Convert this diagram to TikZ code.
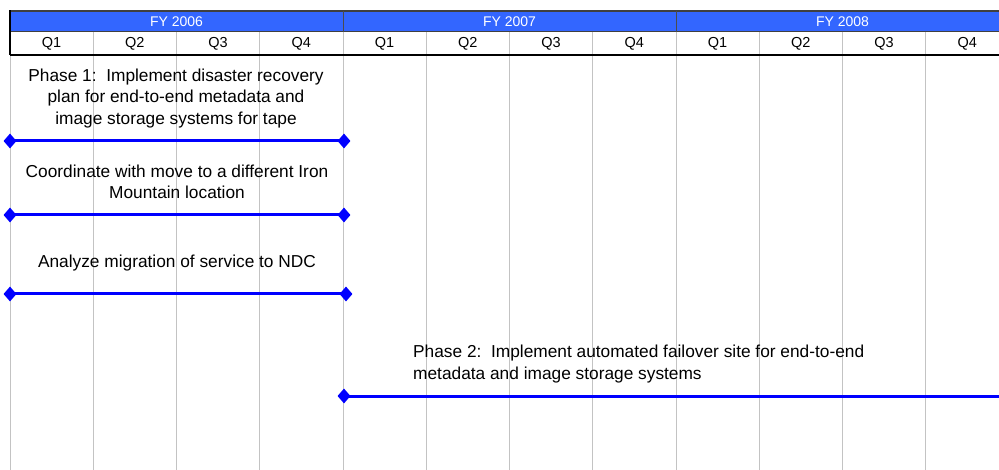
\documentclass[tikz,border=0pt]{standalone}
\usepackage{fontspec}
\setmainfont{Liberation Sans}
\usetikzlibrary{shapes.geometric}
\definecolor{hdrblue}{RGB}{51,102,255}
\definecolor{barblue}{RGB}{0,0,255}
\definecolor{gridgray}{RGB}{195,195,195}
\tikzset{
  yearlbl/.style={text=white,font=\fontsize{14}{15}\selectfont,inner sep=0pt},
  qlbl/.style={text=black,font=\fontsize{14.5}{15}\selectfont,inner sep=0pt},
  tasklbl/.style={font=\fontsize{17.3}{21.2}\selectfont,align=center,inner sep=0pt},
  gridline/.style={draw=gridgray,line width=0.9pt},
  taskbar/.style={draw=barblue,line width=3pt},
  milestone/.style={diamond,fill=barblue,draw=none,minimum width=13pt,minimum height=15pt,inner sep=0pt},
}
\begin{document}
\begin{tikzpicture}[x=1pt,y=-1pt]
\useasboundingbox[fill=white] (0,0) rectangle (999,470);
% year band
\fill[hdrblue] (10,11) rectangle (1010,32);
\draw[black!75,line width=1.2pt] (10,11) -- (1010,11);
\draw[black!75,line width=1pt] (10,32) -- (1010,32);
% quarter grid lines
\foreach \i in {0,...,11} {
  \pgfmathsetmacro{\xq}{10+\i*83.25}
  \draw[gridline] (\xq,32) -- (\xq,470);
}
% year dividers
\foreach \xy in {343,676} {
  \draw[black!70,line width=1pt] (\xy,11) -- (\xy,32);
}
\draw[black,line width=1.5pt] (10,55) -- (1010,55);
\draw[black,line width=2.2pt] (10,10.5) -- (10,55.5);
% year labels
\node[yearlbl] (y06) at (176.5,21.5) {FY 2006};
\node[yearlbl] (y07) at (509.5,21.5) {FY 2007};
\node[yearlbl] (y08) at (842.5,21.5) {FY 2008};
% quarter labels
\foreach \i in {0,...,11} {
  \pgfmathsetmacro{\xc}{10+\i*83.25+41.6}
  \pgfmathtruncatemacro{\q}{mod(\i,4)+1}
  \node[qlbl] (q\i) at (\xc,44) {Q\q};
}
% tasks
\node[tasklbl] (t1) at (176,98.5) {Phase 1:\ \ Implement disaster recovery\\plan for end-to-end metadata and\\image storage systems for tape};
\coordinate (t1a) at (10,141);
\coordinate (t1b) at (344,141);
\draw[taskbar] (t1a) -- (t1b);
\node[milestone] at (t1a) {};
\node[milestone] at (t1b) {};

\node[tasklbl] (t2) at (177,181.5) {Coordinate with move to a different Iron\\Mountain location};
\coordinate (t2a) at (10,215);
\coordinate (t2b) at (344,215);
\draw[taskbar] (t2a) -- (t2b);
\node[milestone] at (t2a) {};
\node[milestone] at (t2b) {};

\node[tasklbl] (t3) at (177,263.5) {Analyze migration of service to NDC};
\coordinate (t3a) at (10,294);
\coordinate (t3b) at (346,294);
\draw[taskbar] (t3a) -- (t3b);
\node[milestone] at (t3a) {};
\node[milestone] at (t3b) {};

\node[tasklbl,align=left,anchor=west] (t4) at (413,364) {Phase 2:\ \ Implement automated failover site for end-to-end\\metadata and image storage systems};
\coordinate (t4a) at (344,396);
\coordinate (t4b) at (1005,396);
\draw[taskbar] (t4a) -- (t4b);
\node[milestone] at (t4a) {};
\end{tikzpicture}
\end{document}
